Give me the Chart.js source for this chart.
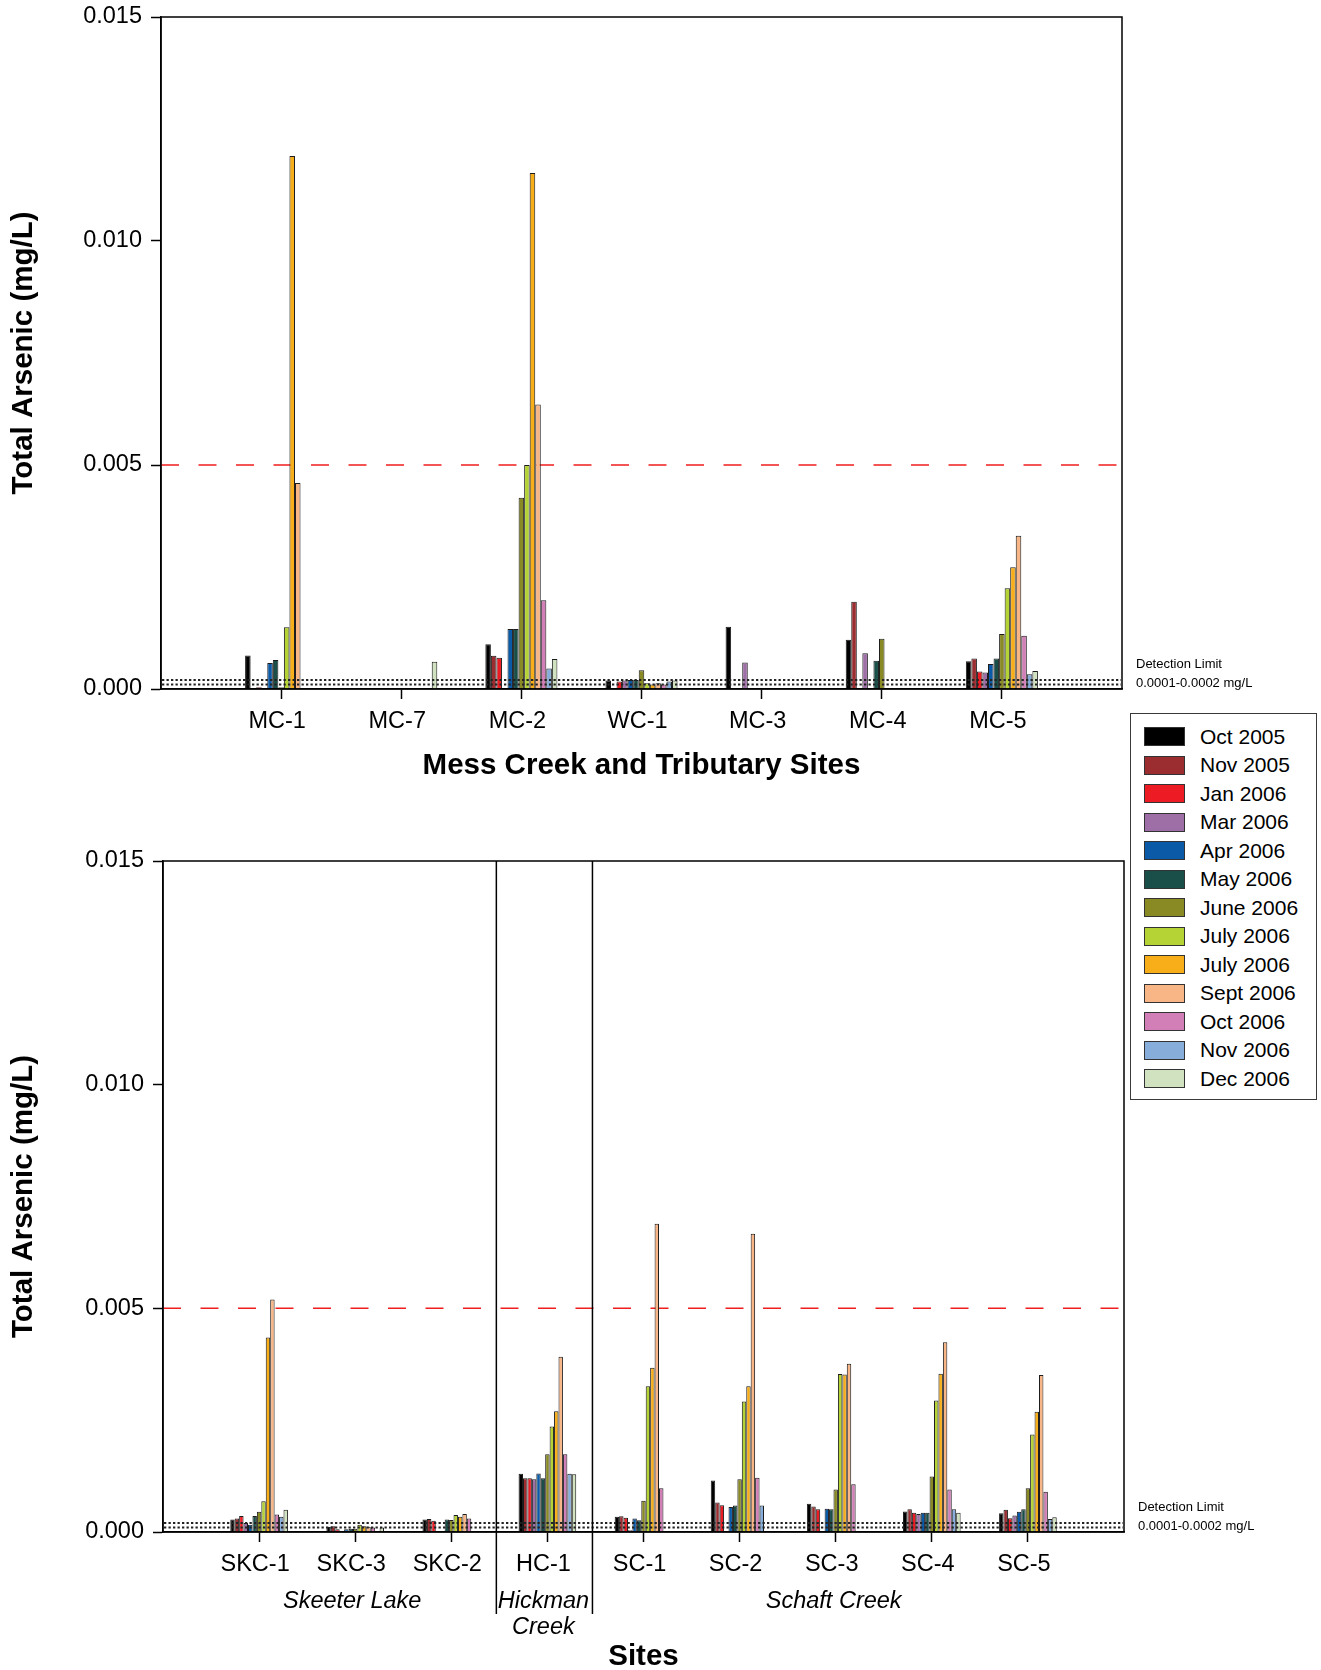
<!DOCTYPE html>
<html>
<head>
<meta charset="utf-8">
<title>Total Arsenic</title>
<script src="https://cdn.jsdelivr.net/npm/chart.js@4.4.0/dist/chart.umd.min.js"></script>
<style>
	html, body { margin: 0; padding: 0; background: #fff; }
	body { width: 1321px; height: 1670px; position: relative; overflow: hidden; font-family: 'Liberation Sans', Arial, sans-serif; }
	canvas { position: absolute; left: 0; }
	#chartTop { top: 0; }
	#chartBottom { top: 800px; }
	#legend { position: absolute; left: 1130px; top: 713px; width: 185px; height: 385px; border: 1.5px solid #3a3a3a; background: #fff; }
	#legend .item { position: absolute; left: 0; height: 28px; display: flex; align-items: center; }
	#legend .swatch { width: 39px; height: 17px; margin-left: 12.5px; border: 1px solid #333; }
	#legend span { margin-left: 15.5px; font-size: 21px; color: #000; white-space: nowrap; }
</style>
</head>
<body>
<canvas id="chartTop" width="1321" height="800"></canvas>
<canvas id="chartBottom" width="1321" height="870"></canvas>
<div id="legend"></div>
<script>
	'use strict';

	// sampling events (legend order)
	const monthLabels = ['Oct 2005', 'Nov 2005', 'Jan 2006', 'Mar 2006', 'Apr 2006', 'May 2006', 'June 2006',
		'July 2006', 'July 2006', 'Sept 2006', 'Oct 2006', 'Nov 2006', 'Dec 2006'];
	const monthColors = ['#000000', '#9b2d30', '#ed1c24', '#9e6fa6', '#0a5aa8', '#1a4f49', '#8a8a25',
		'#b5d334', '#f8ae18', '#f8b585', '#d27fb8', '#87aedb', '#d1e2c0'];

	// categories
	const topSites = ['MC-1', 'MC-7', 'MC-2', 'WC-1', 'MC-3', 'MC-4', 'MC-5'];
	const bottomSites = ['SKC-1', 'SKC-3', 'SKC-2', 'HC-1', 'SC-1', 'SC-2', 'SC-3', 'SC-4', 'SC-5'];
	const yTicks = [0, 0.005, 0.010, 0.015];
	const guideline = 0.005;
	const detectionLimits = [0.0001, 0.0002];

	// total arsenic (mg/L) per site, one value per sampling event, null = no sample
	const mc1 = [0.00075, null, 0.00004, null, 0.00058, 0.00065, 0.00004, 0.00138, 0.0119, 0.0046, null, null, null];
	const mc7 = [null, null, null, null, null, null, null, null, null, null, null, null, 0.00061];
	const mc2 = [0.0010, 0.00074, 0.0007, null, 0.00134, 0.00134, 0.00427, 0.0050, 0.01152, 0.00635, 0.00198, 0.00046, 0.00067];
	const wc1 = [0.00019, null, 0.00017, 0.00019, 0.0002, 0.0002, 0.00042, 0.00013, 0.0001, 0.00013, 0.0001, 0.00017, 0.00019];
	const mc3 = [0.00139, null, null, 0.00059, null, null, null, null, null, null, null, null, null];
	const mc4 = [0.0011, 0.00195, null, 0.0008, null, 0.00063, 0.00112, null, null, null, null, null, null];
	const mc5 = [0.00062, 0.00068, 0.00039, 0.00037, 0.00056, 0.00068, 0.00123, 0.00225, 0.00272, 0.00342, 0.00119, 0.00033, 0.0004];

	const skc1 = [0.00028, 0.0003, 0.00036, 0.0002, 0.00016, 0.00036, 0.00045, 0.00069, 0.00435, 0.0052, 0.00039, 0.00034, 0.0005];
	const skc3 = [0.00011, 0.00013, 0.00006, null, 0.00006, 0.00007, 0.00007, 0.00016, 0.00013, 0.00012, 0.0001, null, 0.0001];
	const skc2 = [0.00028, 0.00029, 0.00025, null, null, 0.00028, 0.00027, 0.00038, 0.00034, 0.0004, 0.0003, null, null];
	const hc1 = [0.0013, 0.0012, 0.0012, 0.00118, 0.00131, 0.0012, 0.00174, 0.00236, 0.0027, 0.00392, 0.00174, 0.0013, 0.00129];
	const sc1 = [0.00034, 0.00035, 0.00032, 0.00004, 0.0003, 0.00026, 0.0007, 0.00326, 0.00367, 0.00689, 0.00098, null, null];
	const sc2 = [0.00115, 0.00066, 0.0006, null, 0.00056, 0.00059, 0.00118, 0.00292, 0.00326, 0.00667, 0.00121, 0.00059, null];
	const sc3 = [0.00063, 0.00057, 0.00051, null, 0.00052, 0.00051, 0.00095, 0.00353, 0.00352, 0.00376, 0.00107, null, null];
	const sc4 = [0.00046, 0.00051, 0.00043, 0.0004, 0.00043, 0.00043, 0.00124, 0.00294, 0.00354, 0.00424, 0.00095, 0.00051, 0.00043];
	const sc5 = [0.00042, 0.0005, 0.00031, 0.00037, 0.00045, 0.00051, 0.00098, 0.00218, 0.00269, 0.00351, 0.0009, 0.00029, 0.00033];

	const topValues = [mc1, mc7, mc2, wc1, mc3, mc4, mc5];
	const bottomValues = [skc1, skc3, skc2, hc1, sc1, sc2, sc3, sc4, sc5];

	;(function (window, document, undefined) {
		let FONT = "'Liberation Sans', Arial, sans-serif";
		Chart.defaults.font.family = FONT;
		Chart.defaults.color = '#000';

		// empty slot on each end so the sites sit one step in from the frame
		function padLabels(sites) {
			return [''].concat(sites, ['']);
		}

		function buildDatasets(siteValues) {
			return monthLabels.map(function (label, m) {
				return {
					label: label,
					data: [null].concat(siteValues.map(function (s) { return s[m]; }), [null]),
					backgroundColor: monthColors[m],
					borderColor: '#1c1c1c',
					borderWidth: 1,
					categoryPercentage: 0.6,
					barPercentage: 1
				};
			});
		}

		function overlay(extra) {
			return {
				id: 'overlay',
				beforeDatasetsDraw: function (chart) {
					let ctx = chart.ctx;
					let area = chart.chartArea;
					let y = chart.scales.y.getPixelForValue(guideline);
					ctx.save();
					ctx.strokeStyle = '#f01e1e';
					ctx.lineWidth = 1.5;
					ctx.setLineDash([18, 19.5]);
					ctx.beginPath();
					ctx.moveTo(area.left, y);
					ctx.lineTo(area.right, y);
					ctx.stroke();
					ctx.restore();
				},
				afterDatasetsDraw: function (chart) {
					let ctx = chart.ctx;
					let area = chart.chartArea;
					let yScale = chart.scales.y;
					ctx.save();
					// detection limit band
					ctx.strokeStyle = '#222';
					ctx.lineWidth = 2;
					ctx.setLineDash([2.3, 2.2]);
					detectionLimits.forEach(function (v) {
						let y = yScale.getPixelForValue(v);
						ctx.beginPath();
						ctx.moveTo(area.left + 1, y);
						ctx.lineTo(area.right - 1, y);
						ctx.stroke();
					});
					ctx.setLineDash([]);
					// frame
					ctx.strokeStyle = '#000';
					ctx.lineWidth = 1.5;
					ctx.strokeRect(area.left, area.top, area.right - area.left, area.bottom - area.top);
					// detection limit note
					ctx.fillStyle = '#000';
					ctx.font = '13px ' + FONT;
					ctx.textAlign = 'left';
					ctx.textBaseline = 'middle';
					ctx.fillText('Detection Limit', area.right + 14, area.bottom - 25);
					ctx.fillText('0.0001-0.0002 mg/L', area.right + 14, area.bottom - 6);
					if (extra) extra(chart);
					ctx.restore();
				}
			};
		}

		function options(cfg) {
			let lastIndex = cfg.labels.length - 1;
			return {
				responsive: false,
				animation: false,
				devicePixelRatio: 1,
				layout: { padding: cfg.padding },
				plugins: { legend: { display: false }, tooltip: { enabled: false } },
				scales: {
					x: {
						offset: false,
						grid: {
							offset: false,
							drawOnChartArea: false,
							tickLength: 10,
							tickWidth: 1.5,
							tickColor: function (c) {
								return (c.index === 0 || c.index === lastIndex) ? 'rgba(0,0,0,0)' : '#000';
							}
						},
						border: { color: '#000', width: 1.5 },
						ticks: { autoSkip: false, maxRotation: 0, padding: 8, labelOffset: -4, color: '#000', font: { size: 23.5 } },
						title: {
							display: true,
							text: cfg.xTitle,
							color: '#000',
							font: { size: 29.5, weight: 'bold', lineHeight: 1 },
							padding: { top: 0, bottom: cfg.xTitlePad }
						},
						afterFit: function (s) { s.height = cfg.xHeight; }
					},
					y: {
						min: 0,
						max: 0.015,
						afterBuildTicks: function (s) {
							s.ticks = yTicks.map(function (v) { return { value: v }; });
						},
						grid: { drawOnChartArea: false, tickLength: 10, tickWidth: 1.5, tickColor: '#000' },
						border: { color: '#000', width: 1.5 },
						ticks: {
							padding: 9,
							color: '#000',
							font: { size: 23.5, lineHeight: 0.6 },
							callback: function (v) { return Number(v).toFixed(3); }
						},
						title: {
							display: true,
							text: 'Total Arsenic (mg/L)',
							color: '#000',
							font: { size: 29.5, weight: 'bold', lineHeight: 1 },
							padding: { top: 9, bottom: 0 }
						},
						afterFit: function (s) { s.width = cfg.yWidth; }
					}
				}
			};
		}

		// upper panel: Mess Creek
		let topLabels = padLabels(topSites);
		new Chart(document.getElementById('chartTop').getContext('2d'), {
			type: 'bar',
			data: { labels: topLabels, datasets: buildDatasets(topValues) },
			options: options({
				labels: topLabels,
				padding: { top: 17, right: 199, left: 0, bottom: 0 },
				xTitle: 'Mess Creek and Tributary Sites',
				xTitlePad: 19,
				xHeight: 111,
				yWidth: 161
			}),
			plugins: [overlay()]
		});

		// lower panel: Skeeter Lake, Hickman Creek, Schaft Creek
		let bottomLabels = padLabels(bottomSites);
		new Chart(document.getElementById('chartBottom').getContext('2d'), {
			type: 'bar',
			data: { labels: bottomLabels, datasets: buildDatasets(bottomValues) },
			options: options({
				labels: bottomLabels,
				padding: { top: 61, right: 197, left: 0, bottom: 0 },
				xTitle: 'Sites',
				xTitlePad: -2,
				xHeight: 138,
				yWidth: 163
			}),
			plugins: [overlay(function (chart) {
				let ctx = chart.ctx;
				let area = chart.chartArea;
				let x = chart.scales.x;
				let px = function (i) { return x.getPixelForValue(i); };
				// group separators
				ctx.strokeStyle = '#000';
				ctx.lineWidth = 1.5;
				[(px(3) + px(4)) / 2 - 3, (px(4) + px(5)) / 2 - 3].forEach(function (sx) {
					ctx.beginPath();
					ctx.moveTo(sx, area.top);
					ctx.lineTo(sx, area.bottom + 82);
					ctx.stroke();
				});
				// group names
				ctx.font = 'italic 23.5px ' + FONT;
				ctx.textAlign = 'center';
				ctx.fillText('Skeeter Lake', px(2) - 3, area.bottom + 69);
				ctx.fillText('Hickman', px(4) - 4, area.bottom + 69);
				ctx.fillText('Creek', px(4) - 4, area.bottom + 95);
				ctx.fillText('Schaft Creek', px(7) - 2, area.bottom + 69);
			})]
		});

		// legend
		let legend = document.getElementById('legend');
		monthLabels.forEach(function (label, i) {
			let item = document.createElement('div');
			item.className = 'item';
			item.style.top = (8.5 + 28.5 * i) + 'px';
			let sw = document.createElement('div');
			sw.className = 'swatch';
			sw.style.background = monthColors[i];
			let txt = document.createElement('span');
			txt.textContent = label;
			item.appendChild(sw);
			item.appendChild(txt);
			legend.appendChild(item);
		});
	})(window, document);
</script>
</body>
</html>
